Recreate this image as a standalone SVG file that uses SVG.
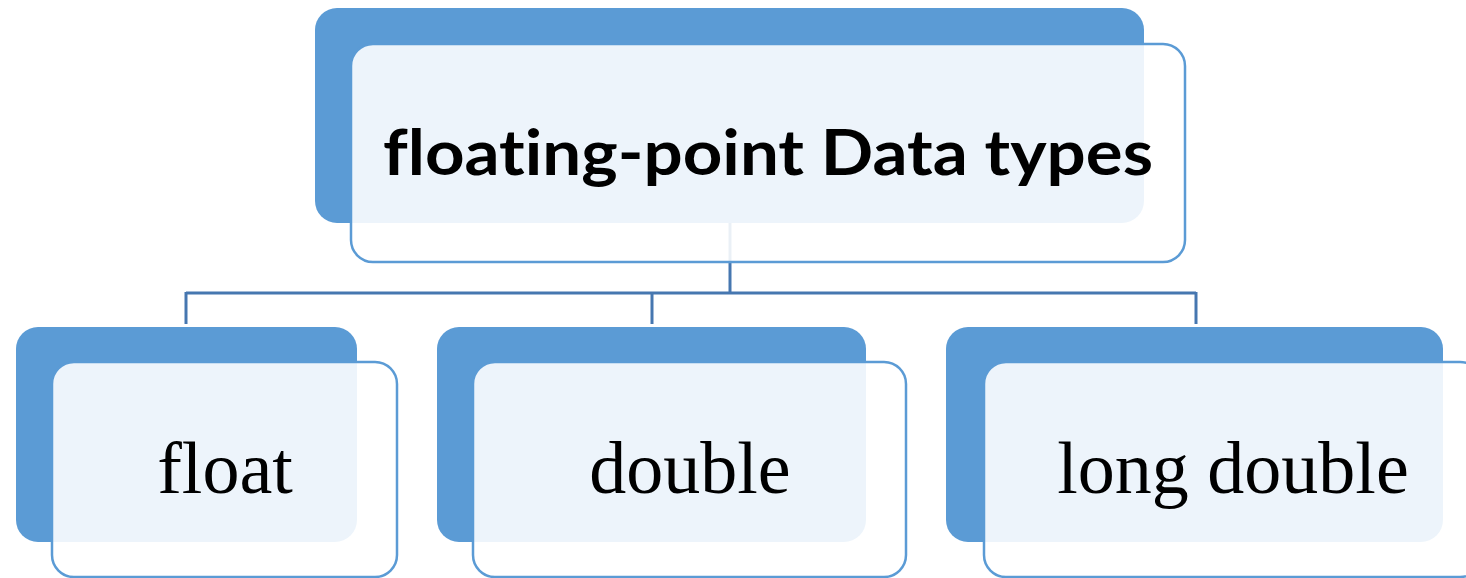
<svg xmlns="http://www.w3.org/2000/svg" width="1466" height="578" viewBox="0 0 1466 578">
<style>
.back{fill:#5B9BD5}
.front{fill:#FFFFFF;fill-opacity:0.89;stroke:#5B9BD5;stroke-width:2.5}
.conn{fill:none;stroke:#4677B0;stroke-width:3}
.title{font-family:Lato,"Open Sans","Liberation Sans",sans-serif;font-weight:700;font-size:63px;fill:#000;font-variant-ligatures:none;font-feature-settings:"liga" 0,"clig" 0}
.lbl{font-family:"Liberation Serif","Times New Roman",serif;font-size:74px;fill:#000}
</style>
<rect width="1466" height="578" fill="#FFFFFF"/>
<g id="backs">
<rect class="back" x="315" y="8" width="829" height="215" rx="22"/>
<rect class="back" x="16" y="327" width="341" height="215" rx="22"/>
<rect class="back" x="437" y="327" width="429" height="215" rx="22"/>
<rect class="back" x="946" y="327" width="497" height="215" rx="22"/>
</g>
<g id="connectors">
<path class="conn" d="M730 223 V293"/>
<path class="conn" d="M186 293 H1196"/>
<path class="conn" d="M186 292 V324"/>
<path class="conn" d="M652 292 V324"/>
<path class="conn" d="M1196 292 V324"/>
</g>
<g id="root">
<rect class="front" x="351" y="44" width="834" height="218" rx="22"/>
<text class="title" x="768" y="175" text-anchor="middle" textLength="770" lengthAdjust="spacingAndGlyphs">floating-point Data types</text>
</g>
<g id="float">
<rect class="front" x="52" y="362" width="345" height="215" rx="22"/>
<text class="lbl" x="225" y="493" text-anchor="middle">float</text>
</g>
<g id="double">
<rect class="front" x="473" y="362" width="433" height="215" rx="22"/>
<text class="lbl" x="690" y="493" text-anchor="middle">double</text>
</g>
<g id="longdouble">
<rect class="front" x="984" y="362" width="498" height="215" rx="22"/>
<text class="lbl" x="1233" y="493" text-anchor="middle">long double</text>
</g>
</svg>
